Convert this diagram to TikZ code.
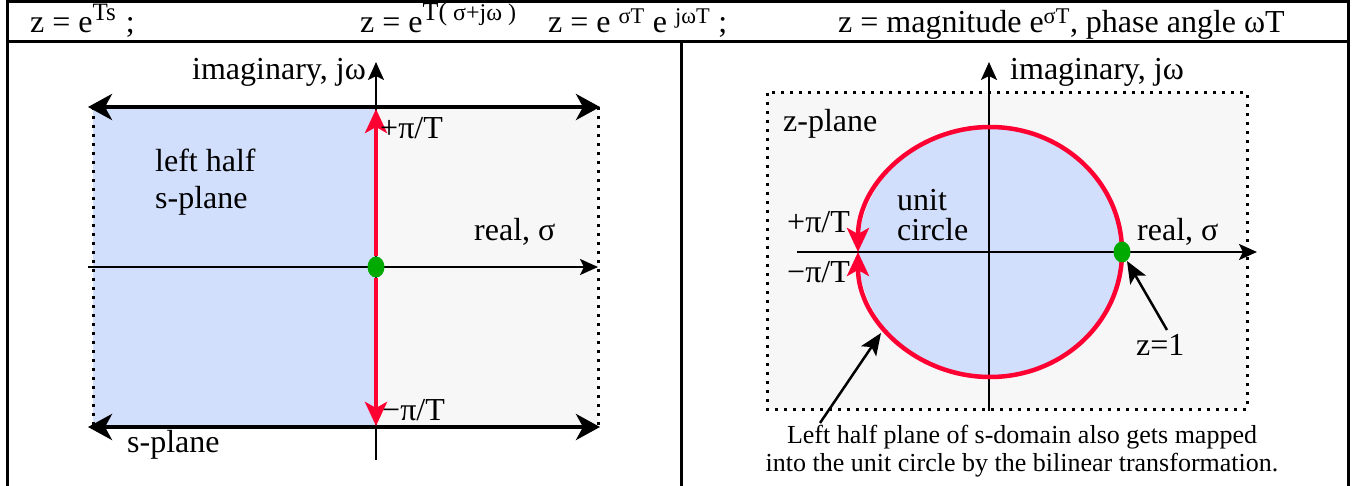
\documentclass[tikz,border=0pt]{standalone}
\usepackage{fontspec}
\setmainfont{Liberation Serif}
\usetikzlibrary{arrows.meta,shapes.geometric}
\definecolor{sblue}{RGB}{210,223,252}
\definecolor{sgray}{RGB}{247,247,247}
\definecolor{sred}{RGB}{255,0,51}
\definecolor{sgreen}{RGB}{0,170,0}
\newcommand{\mysup}[3]{\raisebox{#2}{\fontsize{#1}{#1}\selectfont #3}}
\tikzset{
  lbl/.style={inner sep=0pt, font=\fontsize{32}{37}\selectfont},
  hdr/.style={inner sep=0pt, font=\fontsize{32}{36}\selectfont, anchor=base west},
  captxt/.style={inner sep=0pt, font=\fontsize{26}{28}\selectfont, align=center},
  frame/.style={line width=3pt},
  dotline/.style={line width=3pt, dash pattern=on 3pt off 6pt},
  bigarrow/.style={line width=4.5pt, {Stealth[length=24pt,width=26pt,inset=7pt]}-{Stealth[length=24pt,width=26pt,inset=7pt]}},
  axis/.style={line width=2.5pt, -{Stealth[length=18pt,width=16pt,inset=4pt]}},
  redline/.style={sred, line width=4.5pt},
  redtip/.style={-{Stealth[length=24pt,width=22pt,inset=6pt]}},
  pointer/.style={line width=2.5pt, -{Stealth[length=22pt,width=18pt,inset=5pt]}},
  dot/.style={ellipse, fill=sgreen, minimum width=17pt, minimum height=21pt, inner sep=0pt},
}
\begin{document}
\begin{tikzpicture}[x=1pt,y=-1pt]
\useasboundingbox (0,0) rectangle (1354,486);
% table frame
\draw[frame] (7,486) -- (7,1.5) -- (1348,1.5) -- (1348,486);
\draw[frame] (7,42) -- (1348,42);
\draw[frame] (681,42) -- (681,486);
% header
\node[hdr] (h1) at (30,33) {z = e\mysup{25}{12pt}{Ts}\hspace{10pt};};
\node[hdr] (h2) at (360,33) {z = e\mysup{26}{12pt}{T(}\mysup{24}{12pt}{ σ+jω )}};
\node[hdr] (h3) at (548,33) {z = e \textsuperscript{σT} e \textsuperscript{jωT} ;};
\node[hdr] (h4) at (838,33) {z = magnitude e\textsuperscript{σT}, phase angle ωT};

% ---------- left panel: s-plane ----------
\fill[sblue] (93,107) rectangle (376,427);
\fill[sgray] (376,107) rectangle (598,427);
\draw[dotline] (93,107) -- (93,427);
\draw[dotline] (598,107) -- (598,427);
\coordinate (sTL) at (88,107);
\coordinate (sTR) at (600,107);
\coordinate (sBL) at (88,427);
\coordinate (sBR) at (600,427);
\draw[bigarrow] (sTL) -- (sTR);
\draw[bigarrow] (sBL) -- (sBR);
\coordinate (sRe0) at (88,267);
\coordinate (sRe1) at (598,267);
\draw[axis] (sRe0) -- (sRe1);
\coordinate (sIm0) at (376,460);
\coordinate (sIm1) at (376,62);
\draw[axis] (sIm0) -- (sIm1);
\node[dot] (sO) at (376,267) {};
\coordinate (sPi) at (376,109);
\coordinate (sMPi) at (376,426);
\draw[redline,redtip] (sO.north) -- (sPi);
\draw[redline,redtip] (sO.south) -- (sMPi);
\node[lbl, anchor=east] (sImL) at (366,72) {imaginary, jω};
\node[lbl, anchor=west] (sPiL) at (380,128) {+π/T};
\node[lbl, anchor=west] (sMPiL) at (382,410) {−π/T};
\node[lbl, anchor=west, align=left] (lhs) at (155,182) {left half\\s-plane};
\node[lbl, anchor=west] (sReL) at (474,232) {real, σ};
\node[lbl, anchor=west] (spl) at (127,445) {s-plane};

% ---------- right panel: z-plane ----------
\fill[sgray] (767,93) rectangle (1247,409);
\draw[dotline] (767,93) rectangle (1247,409);
\fill[sblue] (990,252) ellipse[x radius=132, y radius=125];
\coordinate (zRe0) at (797,252);
\coordinate (zRe1) at (1257,252);
\draw[axis] (zRe0) -- (zRe1);
\coordinate (zIm0) at (989,411);
\coordinate (zIm1) at (989,62);
\draw[axis] (zIm0) -- (zIm1);
\draw[redline,redtip] (1122,252) arc[start angle=0, end angle=-180, x radius=132, y radius=125];
\draw[redline,redtip] (1122,252) arc[start angle=0, end angle=180, x radius=132, y radius=125];
\node[dot] (z1) at (1122,252) {};
\node[lbl, anchor=west] (zImL) at (1010,72) {imaginary, jω};
\node[lbl, anchor=west] (zpl) at (783,124) {z-plane};
\node[lbl, anchor=west, align=left] (uc) at (897,215) {unit\\[-7pt]circle};
\node[lbl, anchor=west] (zPiL) at (787,222) {+π/T};
\node[lbl, anchor=west] (zMPiL) at (787,272) {−π/T};
\node[lbl, anchor=west] (zReL) at (1137,232) {real, σ};
\node[lbl, anchor=west] (z1L) at (1136,345) {z=1};
\coordinate (z1tip) at (1127,261);
\coordinate (z1from) at (1167,330);
\draw[pointer] (z1from) -- (z1tip);
\node[captxt] (capL) at (1022,451) {Left half plane of s-domain also gets mapped\\into the unit circle by the bilinear transformation.};
\coordinate (lhtip) at (881,333);
\coordinate (lhfrom) at (820,423);
\draw[pointer] (lhfrom) -- (lhtip);
\end{tikzpicture}
\end{document}
